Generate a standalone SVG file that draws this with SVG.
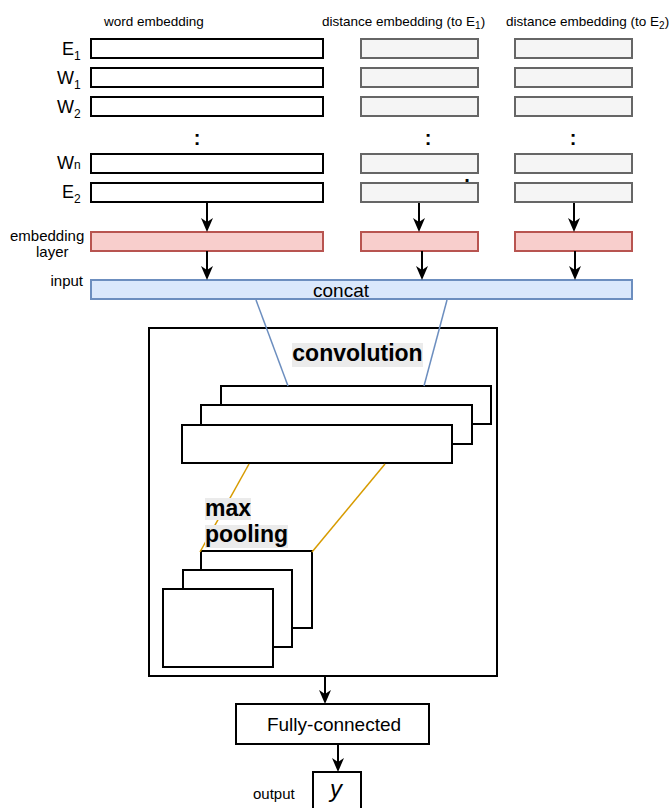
<svg xmlns="http://www.w3.org/2000/svg" width="672" height="808" viewBox="0 0 672 808">
<style>
text{font-family:"Liberation Sans",Arial,sans-serif;fill:#000}
.w{fill:#fff;stroke:#000;stroke-width:2}
.g{fill:#f5f5f5;stroke:#666;stroke-width:2}
.r{fill:#f8cecc;stroke:#b85450;stroke-width:2}
.b{fill:#dae8fc;stroke:#6c8ebf;stroke-width:2}
.hdr{font-size:13.5px}
.lbl{font-size:15px}
.big{font-size:18px}
.dots{font-size:20px;font-weight:bold}
.bold{font-size:23px;font-weight:bold}
.bg{fill:#ebebeb}
.arr{stroke:#000;stroke-width:2;fill:none;marker-end:url(#ah)}
.bl{stroke:#6c8ebf;stroke-width:1.5;fill:none}
.or{stroke:#d79b00;stroke-width:1.5;fill:none}
</style>
<defs>
<marker id="ah" viewBox="0 0 14 12" refX="8" refY="6" markerWidth="14" markerHeight="12" markerUnits="userSpaceOnUse" orient="auto">
<path d="M0,0 L14,6 L0,12 L4,6 Z" fill="#000"/>
</marker>
</defs>

<g id="headers">
<text class="hdr" x="104" y="26">word embedding</text>
<text class="hdr" x="322" y="26">distance embedding (to E<tspan font-size="10" dy="3">1</tspan><tspan dy="-3">)</tspan></text>
<text class="hdr" x="506" y="26">distance embedding (to E<tspan font-size="10" dy="3">2</tspan><tspan dy="-3">)</tspan></text>
</g>

<g id="row-labels">
<text class="big" x="62" y="55">E<tspan font-size="12" dy="5">1</tspan></text>
<text class="big" x="57" y="84">W<tspan font-size="12" dy="5">1</tspan></text>
<text class="big" x="57" y="113">W<tspan font-size="12" dy="5">2</tspan></text>
<text class="big" x="57" y="169">W<tspan font-size="12">n</tspan></text>
<text class="big" x="62" y="198">E<tspan font-size="12" dy="5">2</tspan></text>
<text class="lbl" x="10" y="241">embedding</text>
<text class="lbl" x="36" y="257">layer</text>
<text class="lbl" x="83" y="286" text-anchor="end">input</text>
<text class="lbl" x="253" y="799">output</text>
</g>

<g id="word-embedding">
<rect class="w" x="91" y="39" width="232" height="19"/>
<rect class="w" x="91" y="68" width="232" height="19"/>
<rect class="w" x="91" y="97" width="232" height="19"/>
<text class="dots" x="197" y="145" text-anchor="middle">:</text>
<rect class="w" x="91" y="154" width="232" height="19"/>
<rect class="w" x="91" y="183" width="232" height="19"/>
</g>

<g id="distance-embedding-1">
<rect class="g" x="361" y="39" width="117" height="19"/>
<rect class="g" x="361" y="68" width="117" height="19"/>
<rect class="g" x="361" y="97" width="117" height="19"/>
<text class="dots" x="428" y="145" text-anchor="middle">:</text>
<rect class="g" x="361" y="154" width="117" height="19"/>
<text class="dots" x="467" y="182" text-anchor="middle" font-size="14">.</text>
<rect class="g" x="361" y="183" width="117" height="19"/>
</g>

<g id="distance-embedding-2">
<rect class="g" x="515" y="39" width="117" height="19"/>
<rect class="g" x="515" y="68" width="117" height="19"/>
<rect class="g" x="515" y="97" width="117" height="19"/>
<text class="dots" x="573" y="145" text-anchor="middle">:</text>
<rect class="g" x="515" y="154" width="117" height="19"/>
<rect class="g" x="515" y="183" width="117" height="19"/>
</g>

<g id="embedding-layer">
<rect class="r" x="91" y="232" width="232" height="19"/>
<rect class="r" x="361" y="232" width="117" height="19"/>
<rect class="r" x="515" y="232" width="117" height="19"/>
</g>

<g id="concat">
<rect class="b" x="91" y="280" width="541" height="19"/>
<text x="341" y="297" font-size="19" text-anchor="middle">concat</text>
</g>

<g id="cnn">
<rect class="w" x="149" y="328" width="348" height="348"/>
</g>

<g id="conv-layers">
<rect class="w" x="221" y="386" width="270" height="38"/>
<rect class="w" x="201" y="405" width="271" height="39"/>
<rect class="w" x="182" y="425" width="270" height="38"/>
</g>

<g id="pool-layers">
<rect class="w" x="201" y="551" width="111" height="77"/>
<rect class="w" x="183" y="570" width="109" height="77"/>
<rect class="w" x="163" y="589" width="110" height="78"/>
</g>

<g id="connectors">
<line class="arr" x1="207" y1="203" x2="207" y2="226"/>
<line class="arr" x1="419" y1="203" x2="419" y2="226"/>
<line class="arr" x1="574" y1="203" x2="574" y2="226"/>
<line class="arr" x1="207" y1="251" x2="207" y2="274"/>
<line class="arr" x1="422" y1="251" x2="422" y2="274"/>
<line class="arr" x1="575" y1="251" x2="575" y2="274"/>
<line class="bl" x1="256" y1="300" x2="288" y2="386"/>
<line class="bl" x1="447" y1="300" x2="424" y2="386"/>
<line class="or" x1="249" y1="464" x2="200" y2="552"/>
<line class="or" x1="385" y1="464" x2="312" y2="552"/>
<line class="arr" x1="325" y1="677" x2="325" y2="698"/>
<line class="arr" x1="338" y1="745" x2="338" y2="766"/>
</g>

<g id="convolution-label">
<rect class="bg" x="292" y="343" width="131" height="24"/>
<text class="bold" x="357.5" y="361" text-anchor="middle">convolution</text>
</g>

<g id="maxpooling-label">
<rect class="bg" x="205" y="498" width="46" height="22"/>
<rect class="bg" x="205" y="525" width="83" height="23"/>
<text class="bold" x="205" y="516">max</text>
<text class="bold" x="205" y="542">pooling</text>
</g>

<g id="fully-connected">
<rect class="w" x="236" y="704" width="193" height="40"/>
<text x="334" y="731" font-size="19" text-anchor="middle">Fully-connected</text>
</g>

<g id="output">
<rect class="w" x="313" y="772" width="48" height="44"/>
<text x="336" y="797" font-size="24" font-style="italic" text-anchor="middle">y</text>
</g>
</svg>
